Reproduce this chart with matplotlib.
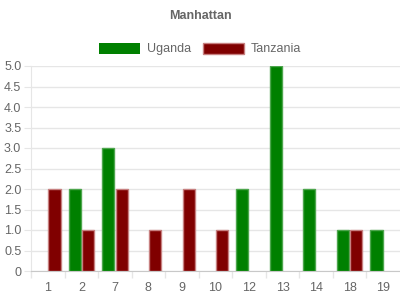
import matplotlib
matplotlib.use('Agg')
import matplotlib.pyplot as plt
import numpy as np
from matplotlib.ticker import FixedLocator, FuncFormatter

plt.rcParams['font.family'] = ['Liberation Sans', 'DejaVu Sans']

# data
categories = ['1', '2', '7', '8', '9', '10', '12', '13', '14', '18', '19']
uganda = [0, 2, 3, 0, 0, 0, 2, 5, 2, 1, 1]
tanzania = [2, 1, 2, 1, 2, 1, 0, 0, 0, 1, 0]

txt = '#666666'
grid = '#e6e6e6'

fig = plt.figure(figsize=(4, 3), dpi=100)
ax = fig.add_axes([31 / 400, 1 - 271 / 300, 1 - 31 / 400, 205 / 300])

x = np.arange(len(categories))
w = 0.8 / 2 * 0.9
off = 0.8 / 4
# no outline on empty bars
lw_u = [1 if v else 0 for v in uganda]
lw_t = [1 if v else 0 for v in tanzania]
ax.bar(x - off, uganda, w, color='#008000', edgecolor=(0.3, 0.65, 0.3), linewidth=lw_u, label='Uganda', zorder=3)
ax.bar(x + off, tanzania, w, color='#800000', edgecolor=(0.78, 0.5, 0.5), linewidth=lw_t, label='Tanzania', zorder=3)

ax.set_xlim(-0.5, len(categories) - 0.5)
ax.set_ylim(0, 5)
ax.set_xticks(x)
ax.set_xticklabels(categories)
ax.xaxis.set_minor_locator(FixedLocator(np.arange(-0.5, len(categories) - 0.5, 1)))
ax.tick_params(axis='x', which='major', length=0, pad=8, labelsize=9, labelcolor=txt)
ax.tick_params(axis='x', which='minor', length=5, color=grid, width=1)
ax.set_yticks(np.arange(0, 5.01, 0.5))
ax.yaxis.set_major_formatter(FuncFormatter(lambda v, p: '0' if v == 0 else '%.1f' % v))
ax.tick_params(axis='y', length=5, color=grid, labelsize=9, labelcolor=txt, pad=2)
ax.grid(axis='y', color=grid, linewidth=1, zorder=0)

for s in ['top', 'right']:
    ax.spines[s].set_visible(False)
ax.spines['left'].set_color(grid)
ax.spines['bottom'].set_color('#c8c8c8')

fig.text(0.5, 1 - 16 / 300, 'Manhattan', ha='center', va='center', fontsize=9, fontweight='bold', color=txt)
fig.legend(loc='center', bbox_to_anchor=(0.5, 1 - 49 / 300), ncol=2, frameon=False,
           fontsize=9, handlelength=3.3, handleheight=1.0, handletextpad=0.5,
           columnspacing=1.0, labelcolor=txt)

fig.savefig('out.png', dpi=100)
